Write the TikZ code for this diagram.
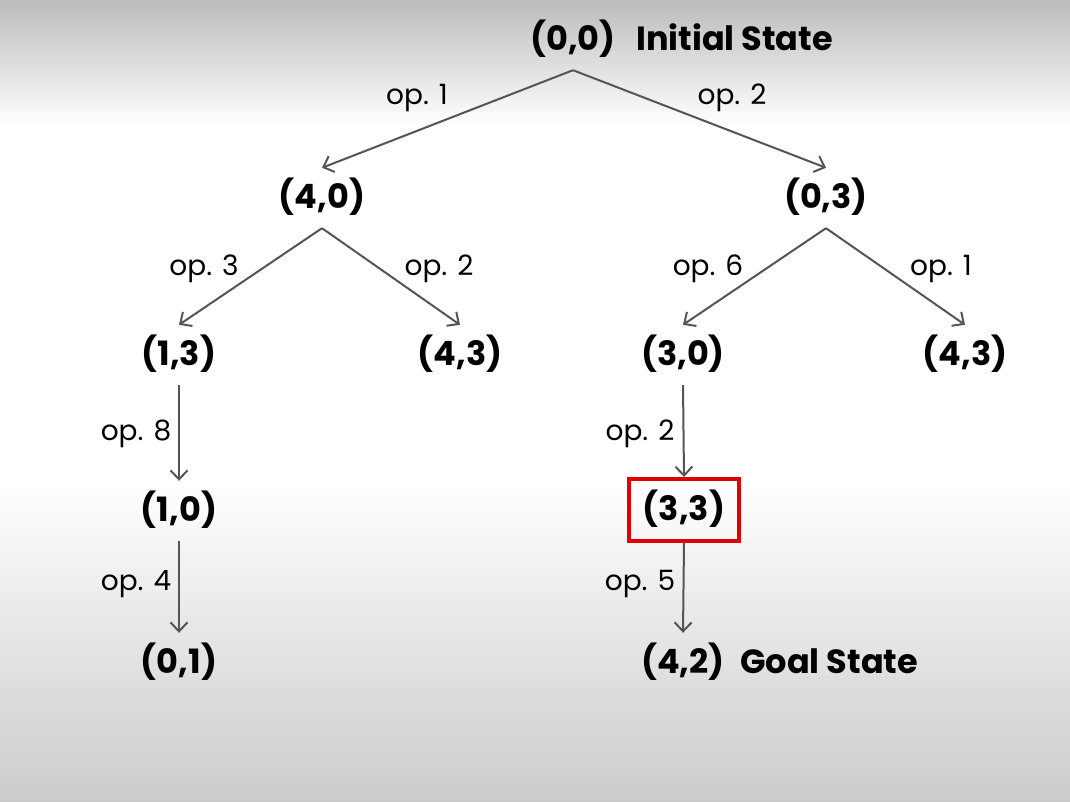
\documentclass[tikz,border=0pt]{standalone}
\usepackage{fontspec}
\setmainfont{Poppins}
\usetikzlibrary{arrows.meta}
\definecolor{edgegray}{HTML}{555555}
\definecolor{boxred}{HTML}{E00000}
\begin{document}
\begin{tikzpicture}[x=1pt,y=-1pt,
  state/.style={font=\bfseries\fontsize{33.5}{33.5}\selectfont, inner sep=0pt, minimum height=60pt, text height=26.5pt, text depth=5.5pt},
  oplabel/.style={font=\fontsize{28}{28}\selectfont, inner sep=0pt, anchor=base},
  arr/.style={draw=edgegray, line width=2pt, -{Straight Barb[length=9pt,width=17pt]}},
  goalbox/.style={draw=boxred, line width=4pt, minimum width=110pt, minimum height=62pt}
]
% background
\useasboundingbox (0,0) rectangle (1070,802);
\fill[white] (0,0) rectangle (1070,802);
\shade[top color={rgb,255:red,188;green,188;blue,188}, bottom color=white] (0,0) rectangle (1070,125);
\shade[top color=white, bottom color={rgb,255:red,203;green,203;blue,203}] (0,480) rectangle (1070,802);

% state nodes
\node[state] (s00) at (573,40) {(0,0)};
\node[state, anchor=west] (init) at (636,40) {Initial State};
\node[state] (s40) at (322,198) {(4,0)};
\node[state] (s03) at (826,198) {(0,3)};
\node[state] (s13) at (179,355) {(1,3)};
\node[state] (s43a) at (460,355) {(4,3)};
\node[state] (s30) at (683,355) {(3,0)};
\node[state] (s43b) at (965,355) {(4,3)};
\node[state] (s10) at (179,511) {(1,0)};
\node[state, goalbox] (s33) at (684,510) {(3,3)};
\node[state] (s01) at (179,663) {(0,1)};
\node[state] (s42) at (683,663) {(4,2)};
\node[state, anchor=west] (goal) at (740,663) {Goal State};

% edges
\draw[arr] (s00.south) -- (s40.north);
\draw[arr] (s00.south) -- (s03.north);
\draw[arr] (s40.south) -- (s13.north);
\draw[arr] (s40.south) -- (s43a.north);
\draw[arr] (s03.south) -- (s30.north);
\draw[arr] (s03.south) -- (s43b.north);
\draw[arr] (s13.south) -- (s10.north);
\draw[arr] (s10.south) -- (s01.north);
\draw[arr] (s30.south) -- (s33.north);
\draw[arr] (s33.south) -- (s42.north);

% labels
\node[oplabel] (l1) at (417,105) {op. 1};
\node[oplabel] (l2) at (732,105) {op. 2};
\node[oplabel] (l3) at (204,275) {op. 3};
\node[oplabel] (l4) at (439,275) {op. 2};
\node[oplabel] (l5) at (708,275) {op. 6};
\node[oplabel] (l6) at (941,275) {op. 1};
\node[oplabel] (l7) at (136,440) {op. 8};
\node[oplabel] (l8) at (640,440) {op. 2};
\node[oplabel] (l9) at (136,590) {op. 4};
\node[oplabel] (l10) at (640,590) {op. 5};
\end{tikzpicture}
\end{document}
